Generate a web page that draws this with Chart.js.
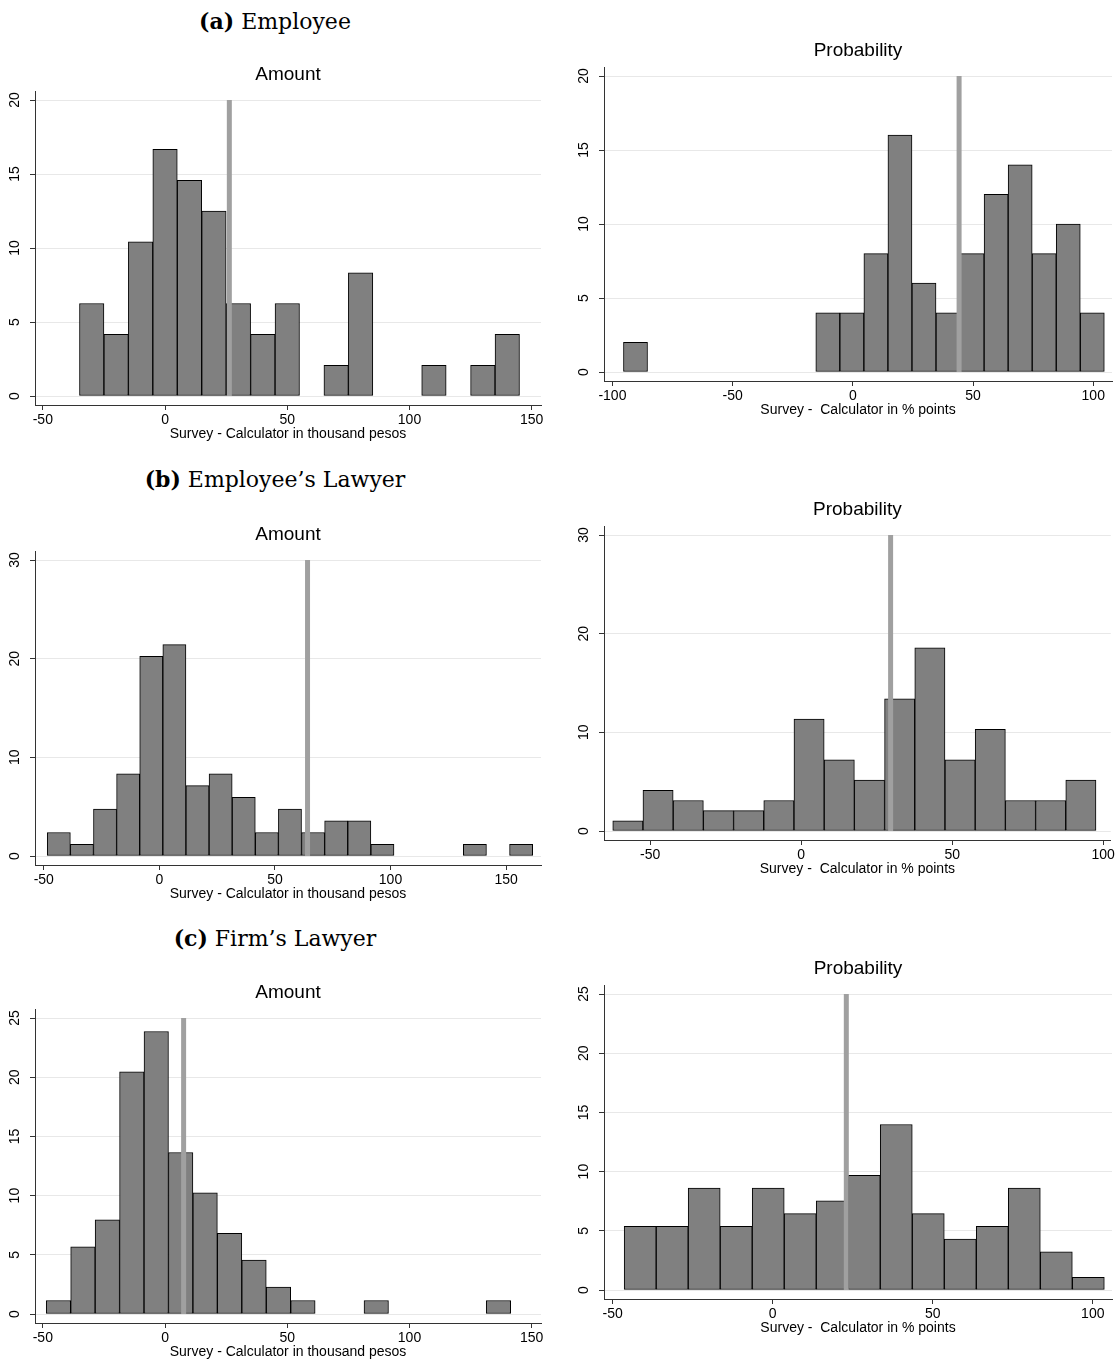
<!DOCTYPE html>
<html>
<head>
<meta charset="utf-8">
<script src="https://cdn.jsdelivr.net/npm/chart.js@4.4.1/dist/chart.umd.min.js"></script>
<style>
  html, body { margin: 0; padding: 0; background: #fff; overflow: hidden; }
  #page { position: relative; width: 1117px; height: 1361px; }
  .head {
    position: absolute; left: 0; width: 550px; text-align: center;
    font-family: "Palatino Linotype", "Book Antiqua", Palatino, "DejaVu Serif", serif;
    font-size: 22px; line-height: 22px; color: #000;
  }
  canvas { position: absolute; }
</style>
</head>
<body>
<div id="page">
  <div class="head" style="top:10px"><b>(a)</b> Employee</div>
  <div class="head" style="top:468px"><b>(b)</b> Employee’s Lawyer</div>
  <div class="head" style="top:927px"><b>(c)</b> Firm’s Lawyer</div>
  <canvas id="aAmount"></canvas>
  <canvas id="aProb"></canvas>
  <canvas id="bAmount"></canvas>
  <canvas id="bProb"></canvas>
  <canvas id="cAmount"></canvas>
  <canvas id="cProb"></canvas>
</div>
<script>
// ---- data: bin centres (x), percent of respondents (y), mean line ----

// (a) Employee
let empAmountBins = [-30, -20, -10, 0, 10, 20, 30, 40, 50, 60, 70, 80, 90, 100, 110, 120, 130, 140];
let empAmountPct  = [6.25, 4.17, 10.42, 16.67, 14.58, 12.50, 6.25, 4.17, 6.25, 0, 2.08, 8.33, 0, 0, 2.08, 0, 2.08, 4.17];
let empAmountMark = 26.3;

let empProbBins = [-90.4, -80.4, -70.4, -60.4, -50.4, -40.4, -30.4, -20.4, -10.4, -0.4, 9.6, 19.6, 29.6, 39.6, 49.6, 59.6, 69.6, 79.6, 89.6, 99.6];
let empProbPct  = [2, 0, 0, 0, 0, 0, 0, 0, 4, 4, 8, 16, 6, 4, 8, 12, 14, 8, 10, 4];
let empProbMark = 44.2;

// (b) Employee's lawyer
let empLawAmountBins = [-43.5, -33.5, -23.5, -13.5, -3.5, 6.5, 16.5, 26.5, 36.5, 46.5, 56.5, 66.5, 76.5, 86.5, 96.5, 106.5, 116.5, 126.5, 136.5, 146.5, 156.5];
let empLawAmountPct  = [2.38, 1.19, 4.76, 8.33, 20.24, 21.43, 7.14, 8.33, 5.95, 2.38, 4.76, 2.38, 3.57, 3.57, 1.19, 0, 0, 0, 1.19, 0, 1.19];
let empLawAmountMark = 64.1;

let empLawProbBins = [-57.4, -47.4, -37.4, -27.4, -17.4, -7.4, 2.6, 12.6, 22.6, 32.6, 42.6, 52.6, 62.6, 72.6, 82.6, 92.6];
let empLawProbPct  = [1.03, 4.12, 3.09, 2.06, 2.06, 3.09, 11.34, 7.22, 5.15, 13.40, 18.56, 7.22, 10.31, 3.09, 3.09, 5.15];
let empLawProbMark = 29.6;

// (c) Firm's lawyer
let firmLawAmountBins = [-43.6, -33.6, -23.6, -13.6, -3.6, 6.4, 16.4, 26.4, 36.4, 46.4, 56.4, 66.4, 76.4, 86.4, 96.4, 106.4, 116.4, 126.4, 136.4];
let firmLawAmountPct  = [1.14, 5.68, 7.95, 20.45, 23.86, 13.64, 10.23, 6.82, 4.55, 2.27, 1.14, 0, 0, 1.14, 0, 0, 0, 0, 1.14];
let firmLawAmountMark = 7.6;

let firmLawProbBins = [-41.4, -31.4, -21.4, -11.4, -1.4, 8.6, 18.6, 28.6, 38.6, 48.6, 58.6, 68.6, 78.6, 88.6, 98.6];
let firmLawProbPct  = [5.38, 5.38, 8.60, 5.38, 8.60, 6.45, 7.53, 9.68, 13.98, 6.45, 4.30, 5.38, 8.60, 3.23, 1.08];
let firmLawProbMark = 23.0;

// tick labels
let amountTicks  = [-50, 0, 50, 100, 150];
let empProbTicks = [-100, -50, 0, 50, 100];
let probTicks    = [-50, 0, 50, 100];
let yTicks20 = [0, 5, 10, 15, 20];
let yTicks30 = [0, 10, 20, 30];
let yTicks25 = [0, 5, 10, 15, 20, 25];

let amountTitle = 'Survey - Calculator in thousand pesos';
let probTitle   = 'Survey -  Calculator in % points';

// ---- layout ----
let H = 390;          // canvas height
let BOTTOM = 40;      // x axis block below plot

Chart.defaults.font.family = '"Liberation Sans", Arial, Helvetica, sans-serif';
Chart.defaults.color = '#000';

let panels = [
  { id: 'aAmount', left: 0,   top: 55,  w: 558, yAxisW: 35, padR: 17, title: 'Amount',
    bins: empAmountBins, pct: empAmountPct, mark: empAmountMark,
    xTicks: amountTicks, xMin: -53.2, xMax: 153.8, yTicks: yTicks20, xTitle: amountTitle },
  { id: 'aProb',   left: 558, top: 31,  w: 559, yAxisW: 46, padR: 5, title: 'Probability',
    bins: empProbBins, pct: empProbPct, mark: empProbMark,
    xTicks: empProbTicks, xMin: -103.5, xMax: 107.8, yTicks: yTicks20, xTitle: probTitle },
  { id: 'bAmount', left: 0,   top: 515, w: 558, yAxisW: 35, padR: 17, title: 'Amount',
    bins: empLawAmountBins, pct: empLawAmountPct, mark: empLawAmountMark,
    xTicks: amountTicks, xMin: -53.8, xMax: 165.1, yTicks: yTicks30, xTitle: amountTitle },
  { id: 'bProb',   left: 558, top: 490, w: 559, yAxisW: 46, padR: 5, title: 'Probability',
    bins: empLawProbBins, pct: empLawProbPct, mark: empLawProbMark,
    xTicks: probTicks, xMin: -65.3, xMax: 102.5, yTicks: yTicks30, xTitle: probTitle },
  { id: 'cAmount', left: 0,   top: 973, w: 558, yAxisW: 35, padR: 17, title: 'Amount',
    bins: firmLawAmountBins, pct: firmLawAmountPct, mark: firmLawAmountMark,
    xTicks: amountTicks, xMin: -53.2, xMax: 153.8, yTicks: yTicks25, xTitle: amountTitle },
  { id: 'cProb',   left: 558, top: 949, w: 559, yAxisW: 46, padR: 5, title: 'Probability',
    bins: firmLawProbBins, pct: firmLawProbPct, mark: firmLawProbMark,
    xTicks: probTicks, xMin: -52.7, xMax: 106, yTicks: yTicks25, xTitle: probTitle }
];

function makePanel(p) {
  let canvas = document.getElementById(p.id);
  canvas.width = p.w;
  canvas.height = H;
  canvas.style.left = p.left + 'px';
  canvas.style.top = p.top + 'px';

  let yTop = p.yTicks[p.yTicks.length - 1];
  let yPad = yTop * 9 / 296;

  new Chart(canvas, {
    type: 'bar',
    data: {
      datasets: [
        {
          // mean difference marker
          type: 'line',
          data: [{ x: p.mark, y: 0 }, { x: p.mark, y: yTop }],
          borderColor: '#a0a0a0',
          borderWidth: 5,
          borderCapStyle: 'butt',
          pointRadius: 0,
          order: 0
        },
        {
          data: p.bins.map((b, i) => ({ x: b, y: p.pct[i] })),
          backgroundColor: '#808080',
          borderColor: '#000',
          borderWidth: 1,
          borderSkipped: false,
          barPercentage: 1.0,
          categoryPercentage: 1.0,
          order: 1
        }
      ]
    },
    options: {
      animation: false,
      responsive: false,
      events: [],
      layout: { padding: { left: 0, right: p.padR, top: 0, bottom: 0 } },
      plugins: {
        legend: { display: false },
        tooltip: { enabled: false },
        title: {
          display: true,
          fullSize: false,
          text: p.title,
          color: '#000',
          font: { size: 19, weight: 'normal', lineHeight: 1.2 },
          padding: { top: 8.6, bottom: 4.6 }
        }
      },
      scales: {
        x: {
          type: 'linear',
          min: p.xMin,
          max: p.xMax,
          offset: false,
          afterBuildTicks: s => { s.ticks = p.xTicks.map(v => ({ value: v })); },
          afterFit: s => { s.height = BOTTOM; },
          ticks: { color: '#000', font: { size: 14 }, padding: 2, maxRotation: 0 },
          grid: { display: true, drawOnChartArea: false, offset: false, tickLength: 5, tickColor: '#333', lineWidth: 1 },
          border: { display: true, color: '#333', width: 1 },
          title: { display: true, text: p.xTitle, color: '#000', font: { size: 14, lineHeight: 1.2 }, padding: { top: 0, bottom: 2.1 } }
        },
        y: {
          min: -yPad,
          max: yTop + yPad,
          afterBuildTicks: s => { s.ticks = p.yTicks.map(v => ({ value: v })); },
          afterFit: s => { s.width = p.yAxisW; },
          ticks: { color: '#000', font: { size: 14 }, minRotation: 90, maxRotation: 90, crossAlign: 'center', padding: 7 },
          grid: { display: true, drawOnChartArea: true, color: '#e8e8e8', tickColor: '#333', tickLength: 5, lineWidth: 1 },
          border: { display: true, color: '#333', width: 1 }
        }
      }
    }
  });
}

panels.forEach(makePanel);
</script>
</body>
</html>
